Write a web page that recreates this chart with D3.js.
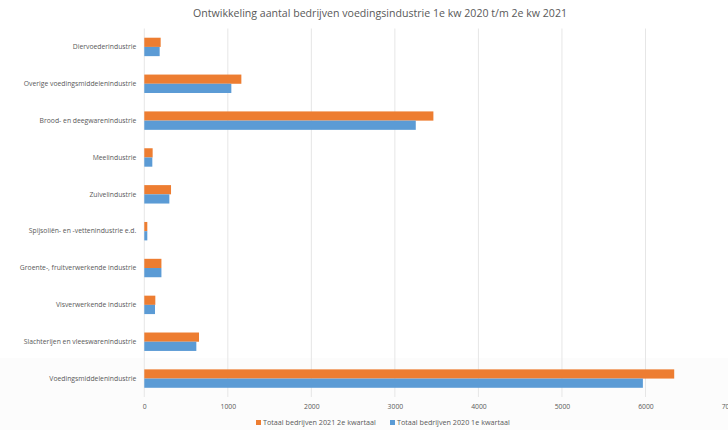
<!DOCTYPE html>
<html lang="nl">
<head>
    <meta charset="UTF-8">
    <title>Ontwikkeling aantal bedrijven voedingsindustrie</title>
    <script src="https://d3js.org/d3.v7.min.js"></script>
    <style>
        body { margin: 0; background: #fff; }
        text { font-family: "Open Sans", "Liberation Sans", sans-serif; fill: #595959; }
        .grid line { stroke: #e6e6e6; stroke-width: 1px; }
        .tick text { font-size: 6.8px; }
    </style>
</head>
<body>
    <svg width="728" height="430"></svg>
    <script>
        // categories, top to bottom
        const categories = [
            "Diervoederindustrie",
            "Overige voedingsmiddelenindustrie",
            "Brood- en deegwarenindustrie",
            "Meelindustrie",
            "Zuivelindustrie",
            "Spijsoliën- en -vettenindustrie e.d.",
            "Groente-, fruitverwerkende industrie",
            "Visverwerkende industrie",
            "Slachterijen en vleeswarenindustrie",
            "Voedingsmiddelenindustrie"
        ];
        const series = ["Totaal bedrijven 2021 2e kwartaal", "Totaal bedrijven 2020 1e kwartaal"];
        const values2021 = [196, 1162, 3461, 100, 320, 36, 205, 132, 655, 6344];
        const values2020 = [184, 1042, 3250, 96, 300, 36, 205, 128, 623, 5969];
        const xTicks = [0, 1000, 2000, 3000, 4000, 5000, 6000, 7000];
        const colors = ["#ED7D31", "#5B9BD5"];

        const svg = d3.select("svg");
        const plotLeft = 144.3, plotRight = 729, plotTop = 28.5, plotBottom = 397;

        // faint grey band at the bottom of the picture
        svg.append("rect")
            .attr("x", 0).attr("y", 358)
            .attr("width", 728).attr("height", 72)
            .attr("fill", "#fcfcfc");

        svg.append("text")
            .attr("x", 380)
            .attr("y", 17)
            .attr("text-anchor", "middle")
            .style("font-size", "10.6px")
            .text("Ontwikkeling aantal bedrijven voedingsindustrie 1e kw 2020 t/m 2e kw 2021");

        const x = d3.scaleLinear().domain([0, 7000]).range([plotLeft, plotRight]);
        const y = d3.scaleBand().domain(categories).range([plotTop, plotBottom])
            .paddingInner(0.5).paddingOuter(0.25);
        const y1 = d3.scaleBand().domain(series).range([0, y.bandwidth()]);

        // vertical gridlines
        svg.append("g")
            .attr("class", "grid")
            .selectAll("line")
            .data(xTicks)
            .enter().append("line")
            .attr("x1", d => x(d)).attr("x2", d => x(d))
            .attr("y1", plotTop).attr("y2", plotBottom);

        // x axis labels
        const xAxis = svg.append("g")
            .attr("transform", `translate(0,${plotBottom})`)
            .call(d3.axisBottom(x).tickValues(xTicks).tickFormat(d3.format("d"))
                .tickSize(0).tickPadding(7));
        xAxis.select(".domain").remove();

        // category labels
        const yAxis = svg.append("g")
            .attr("transform", `translate(${plotLeft - 8},0)`)
            .call(d3.axisLeft(y).tickSize(0).tickPadding(0));
        yAxis.select(".domain").remove();

        const rows = categories.map((c, i) => ({ cat: c, vals: [values2021[i], values2020[i]] }));

        const groups = svg.append("g")
            .selectAll("g")
            .data(rows)
            .enter().append("g")
            .attr("transform", d => `translate(0,${y(d.cat)})`);

        groups.selectAll("rect")
            .data(d => d.vals.map((v, j) => ({ key: series[j], v: v, j: j })))
            .enter().append("rect")
            .attr("x", x(0))
            .attr("y", d => y1(d.key))
            .attr("width", d => x(d.v) - x(0))
            .attr("height", y1.bandwidth())
            .attr("fill", d => colors[d.j]);

        // legend
        const legendX = [256, 390];
        const legend = svg.append("g")
            .selectAll("g")
            .data(series)
            .enter().append("g")
            .attr("transform", (d, i) => `translate(${legendX[i]},425)`);
        legend.append("rect")
            .attr("x", 0).attr("y", -5)
            .attr("width", 5).attr("height", 5)
            .attr("fill", (d, i) => colors[i]);
        legend.append("text")
            .attr("x", 7).attr("y", 0)
            .style("font-size", "7.2px")
            .text(d => d);
    </script>
</body>
</html>
